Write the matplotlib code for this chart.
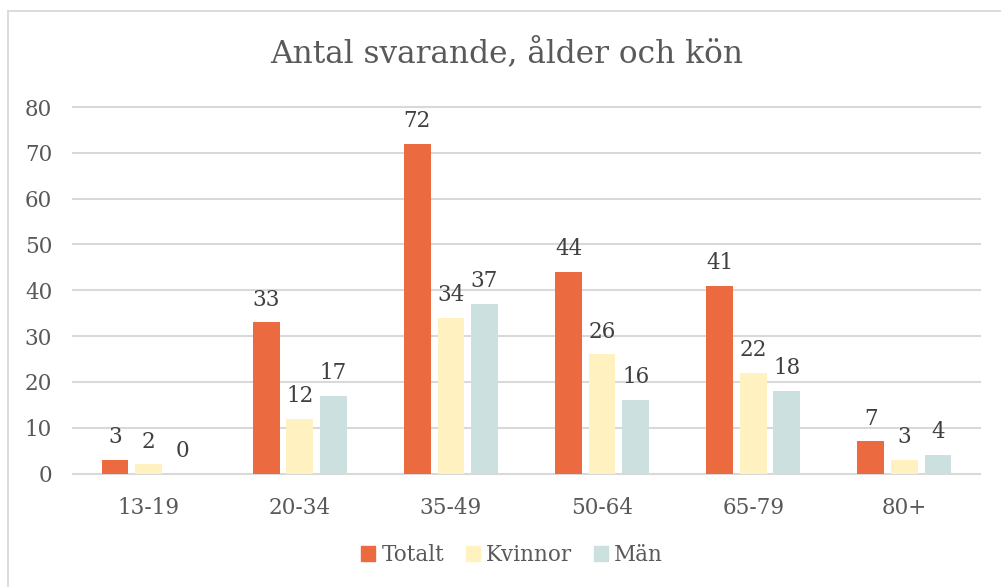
import numpy as np
import matplotlib.pyplot as plt
from matplotlib.lines import Line2D

categories = ['13-19', '20-34', '35-49', '50-64', '65-79', '80+']
totalt = [3, 33, 72, 44, 41, 7]
kvinnor = [2, 12, 34, 26, 22, 3]
man = [0, 17, 37, 16, 18, 4]
series_names = ['Totalt', 'Kvinnor', 'Män']

colors = ['#EC6A40', '#FFF2C0', '#CCE0E0']
plt.rcParams['font.family'] = ['DejaVu Serif']

W, H = 1001, 587
fig = plt.figure(figsize=(W / 100, H / 100), dpi=100)
ax = fig.add_axes([73 / W, (H - 473.5) / H, (980 - 73) / W, (473.5 - 107) / H])

x = np.arange(len(categories))
width = 0.177
step = 0.222
for i, (vals, name) in enumerate(zip([totalt, kvinnor, man], series_names)):
    pos = x + (i - 1) * step
    bars = ax.bar(pos, vals, width, color=colors[i], label=name, zorder=3)
    for b, v in zip(bars, vals):
        ax.annotate(str(v), (b.get_x() + b.get_width() / 2, v), xytext=(0, 8.5),
                    textcoords='offset points', ha='center', va='bottom',
                    fontsize=15.5, color='#404040')

ax.set_xlim(-0.5, len(categories) - 0.5)
ax.set_ylim(0, 80)
ax.set_yticks(range(0, 81, 10))
ax.set_xticks(x)
ax.set_xticklabels(categories)
ax.grid(axis='y', color='#D9D9D9', lw=1.5, zorder=0)
for gl in ax.get_ygridlines():
    gl.set_clip_on(False)
for s in ax.spines.values():
    s.set_visible(False)
ax.tick_params(axis='x', length=0, pad=17, labelsize=15.5, labelcolor='#595959')
ax.tick_params(axis='y', length=0, pad=15, labelsize=15.5, labelcolor='#595959')

fig.text(507 / W, 1 - 53 / H, 'Antal svarande, ålder och kön', ha='center', va='center',
         fontsize=22.5, color='#595959')

handles = [plt.Rectangle((0, 0), 1, 1, color=c) for c in colors]
fig.legend(handles, series_names, loc='center', bbox_to_anchor=(512 / W, 1 - 555 / H),
           ncol=3, frameon=False, handlelength=0.65, handleheight=0.65, handletextpad=0.3,
           columnspacing=1.0, fontsize=15.5, labelcolor='#595959')

# chart border (cropped at right and bottom)
fig.add_artist(Line2D([7.5 / W, 7.5 / W], [0, 1 - 10.5 / H], color='#D9D9D9', lw=1.3))
fig.add_artist(Line2D([7.5 / W, 1], [1 - 10.5 / H, 1 - 10.5 / H], color='#D9D9D9', lw=1.3))

fig.savefig('out.png', dpi=100)
